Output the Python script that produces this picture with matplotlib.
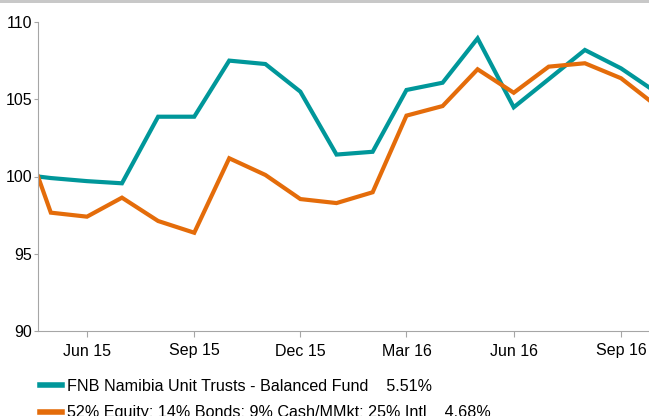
import numpy as np
import pandas as pd
import matplotlib
matplotlib.use("Agg")
import matplotlib.pyplot as plt
import matplotlib.dates as mdates
from matplotlib.patches import Rectangle

plt.rcParams['font.family'] = ['Liberation Sans', 'DejaVu Sans']

# month-start points, first point is the start date, last is where the chart cuts off
dates = pd.to_datetime(['2015-04-20', '2015-05-01', '2015-06-01', '2015-07-01', '2015-08-01',
                        '2015-09-01', '2015-10-01', '2015-11-01', '2015-12-01', '2016-01-01',
                        '2016-02-01', '2016-03-01', '2016-04-01', '2016-05-01', '2016-06-01',
                        '2016-07-01', '2016-08-01', '2016-09-01', '2016-09-25'])
fund = [100.0, 99.9, 99.7, 99.56, 103.87, 103.87, 107.5, 107.28, 105.49, 101.42,
        101.6, 105.6, 106.07, 108.94, 104.48, 106.3, 108.19, 107.0, 105.77]
bench = [100.0, 97.66, 97.4, 98.63, 97.12, 96.36, 101.18, 100.1, 98.54, 98.28,
         98.98, 103.94, 104.56, 106.94, 105.42, 107.11, 107.33, 106.36, 104.95]

fund_label = 'FNB Namibia Unit Trusts - Balanced Fund    5.51%'
bench_label = '52% Equity; 14% Bonds; 9% Cash/MMkt; 25% Intl    4.68%'

teal = '#00979A'
orange = '#E46C0A'
grey = '#A6A6A6'

fig = plt.figure(figsize=(6.49, 4.16), dpi=100)
ax = fig.add_axes([38/649, 85/416, 611/649, 309/416])

ax.plot(dates, fund, color=teal, lw=3, label=fund_label, solid_joinstyle='miter')
ax.plot(dates, bench, color=orange, lw=3, label=bench_label, solid_joinstyle='miter')

ax.set_ylim(90, 110)
ax.set_yticks([90, 95, 100, 105, 110])
ax.set_xlim(dates[0], dates[-1])
ax.xaxis.set_major_locator(mdates.MonthLocator(bymonth=[3, 6, 9, 12]))
ax.xaxis.set_major_formatter(mdates.DateFormatter('%b %y'))

for s in ['top', 'right']:
    ax.spines[s].set_visible(False)
for s in ['left', 'bottom']:
    ax.spines[s].set_color(grey)
    ax.spines[s].set_linewidth(0.8)
ax.tick_params(axis='y', length=3, width=0.8, color=grey, pad=1, labelsize=11.5)
ax.tick_params(axis='x', length=4, width=0.8, color=grey, pad=5, labelsize=11.5)

leg = fig.legend(loc='upper left', bbox_to_anchor=(40/649, 1 - 379/416), frameon=False,
                 fontsize=11.6, handlelength=1.35, handletextpad=0.3, labelspacing=0.7,
                 borderpad=0, borderaxespad=0)
for ln in leg.get_lines():
    ln.set_linewidth(4)

fig.add_artist(Rectangle((0, 1 - 3/416), 1, 3/416, transform=fig.transFigure,
                         color='#C8C8C8', lw=0))

fig.savefig('out.png', dpi=100)
